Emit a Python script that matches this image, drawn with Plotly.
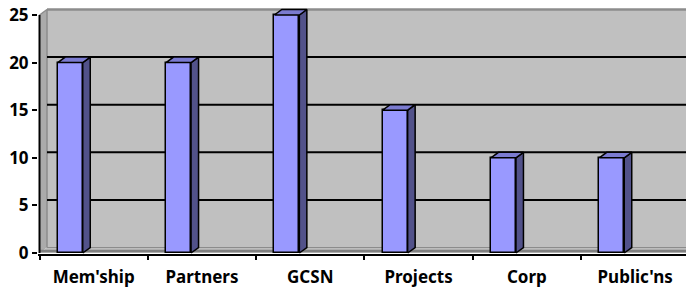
import plotly.graph_objects as go

categories = ["Mem'ship", "Partners", "GCSN", "Projects", "Corp", "Public'ns"]
values = [20, 20, 25, 15, 10, 10]
y_ticks = [0, 5, 10, 15, 20, 25]

W, H = 686, 287
ml, mr, mt, mb = 38, 0, 7, 33
plot_w = W - ml - mr
plot_h = H - mt - mb

px_x = 108.3      # px per category on the front plane
px_y = 9.52       # px per value unit on the front plane
front_off = 1.5   # front axis offset from plot left (px)
xmin = -front_off / px_x
xmax = xmin + plot_w / px_x
ymin = -1.0 / px_y
ymax = ymin + plot_h / px_y

dx = 7.5 / px_x   # depth offset
dy = 5.5 / px_y
ytop = max(y_ticks)
xfar = xmax + 1

bar_off = 30.75 / px_x
bar_w = 25.0 / px_x

FRONT = "#9999FF"
SIDE = "#52528A"
TOP = "#7B7BD0"

shapes = []
# back wall
shapes.append(dict(type="rect", xref="x", yref="y", x0=dx, x1=xfar, y0=dy, y1=ytop + dy,
                   fillcolor="#C0C0C0", line=dict(width=0), layer="below"))
# left wall
shapes.append(dict(type="path", xref="x", yref="y",
                   path=f"M 0,0 L {dx},{dy} L {dx},{ytop+dy} L 0,{ytop} Z",
                   fillcolor="#ABABAB", line=dict(width=0), layer="below"))
# floor
shapes.append(dict(type="path", xref="x", yref="y",
                   path=f"M 0,0 L {dx},{dy} L {xfar},{dy} L {xfar},0 Z",
                   fillcolor="#BDBDBD", line=dict(width=0), layer="below"))
# floor front edge band
shapes.append(dict(type="line", xref="x", yref="y", x0=0, x1=xfar, y0=0.22, y1=0.22,
                   line=dict(color="#808080", width=2.5), layer="below"))
# floor back edge
shapes.append(dict(type="line", xref="x", yref="y", x0=dx, x1=xfar, y0=dy, y1=dy,
                   line=dict(color="#8C8C8C", width=1.2), layer="below"))
# wall borders
shapes.append(dict(type="line", xref="x", yref="y", x0=dx, x1=xfar, y0=ytop + dy, y1=ytop + dy,
                   line=dict(color="#8C8C8C", width=2.5), layer="below"))
shapes.append(dict(type="line", xref="x", yref="y", x0=dx, x1=dx, y0=dy, y1=ytop + dy,
                   line=dict(color="#8C8C8C", width=1.5), layer="below"))
shapes.append(dict(type="line", xref="x", yref="y", x0=0, x1=dx, y0=ytop, y1=ytop + dy,
                   line=dict(color="#8C8C8C", width=1.5), layer="below"))
# gridlines on back wall
for v in y_ticks[1:-1]:
    shapes.append(dict(type="line", xref="x", yref="y", x0=dx, x1=xfar, y0=v + dy, y1=v + dy,
                       line=dict(color="black", width=2), layer="below"))
# y axis line
shapes.append(dict(type="line", xref="x", yref="y", x0=0, x1=0, y0=0, y1=ytop,
                   line=dict(color="black", width=2), layer="above"))

fig = go.Figure()

xs = [i + bar_off for i in range(len(categories))]
fig.add_trace(go.Bar(x=xs, y=values, width=bar_w,
                     marker=dict(color=FRONT, line=dict(color="black", width=1.5)),
                     hoverinfo="skip", showlegend=False))

side_x, side_y, top_x, top_y = [], [], [], []
for xc, v in zip(xs, values):
    x0 = xc - bar_w / 2
    x1 = xc + bar_w / 2
    side_x += [x1, x1 + dx, x1 + dx, x1, x1, None]
    side_y += [0, dy, v + dy, v, 0, None]
    top_x += [x0, x0 + dx, x1 + dx, x1, x0, None]
    top_y += [v, v + dy, v + dy, v, v, None]

fig.add_trace(go.Scatter(x=side_x, y=side_y, mode="lines", fill="toself", fillcolor=SIDE,
                         line=dict(color="black", width=1.5), hoverinfo="skip", showlegend=False))
fig.add_trace(go.Scatter(x=top_x, y=top_y, mode="lines", fill="toself", fillcolor=TOP,
                         line=dict(color="black", width=1.5), hoverinfo="skip", showlegend=False))

font = dict(family="Noto Sans", size=17, color="black", weight="bold")

fig.update_layout(
    width=W, height=H,
    margin=dict(l=ml, r=mr, t=mt, b=mb, pad=0),
    paper_bgcolor="white", plot_bgcolor="white",
    shapes=shapes,
    font=font,
    bargap=0,
    xaxis=dict(range=[xmin, xmax], showgrid=False, zeroline=False, automargin=False,
               showline=True, linecolor="black", linewidth=2,
               tickmode="array", tickvals=[i + 0.5 for i in range(len(categories))],
               ticktext=categories, ticks="", tickfont=font, ticklabelstandoff=7,
               minor=dict(tickmode="array", tickvals=list(range(len(categories) + 1)),
                          ticks="outside", ticklen=4, tickwidth=1.5, tickcolor="black")),
    yaxis=dict(range=[ymin, ymax], showgrid=False, zeroline=False, showline=False,
               automargin=False,
               tickmode="array", tickvals=y_ticks, ticks="outside", ticklen=5,
               tickwidth=2, tickcolor="black", tickfont=font),
)

fig.write_html("out.html", config={"displayModeBar": False},
               post_script="document.body.style.margin='0';document.body.style.padding='0';")
